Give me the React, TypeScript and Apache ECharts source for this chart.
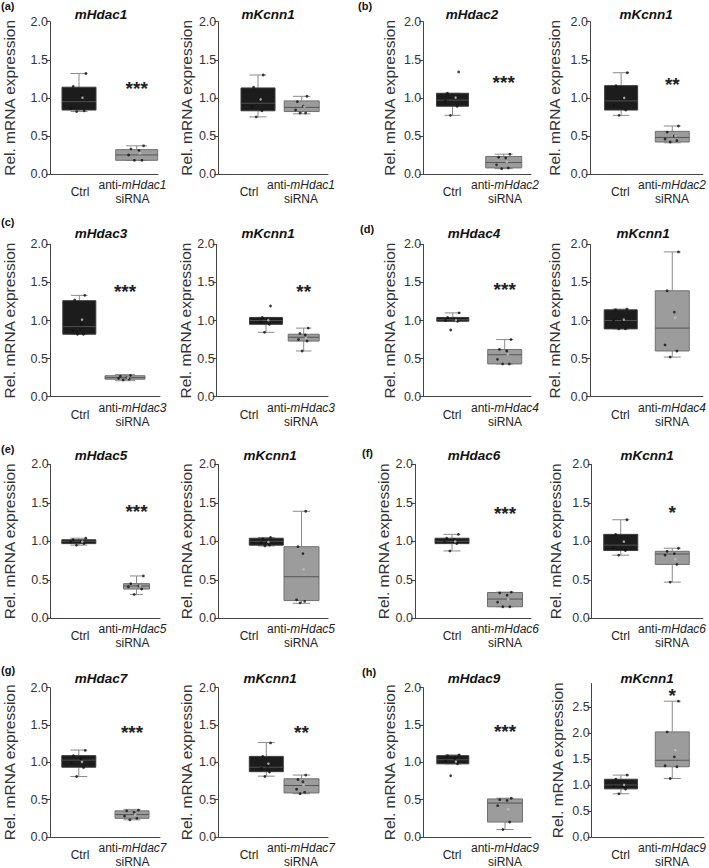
import React, { useEffect, useRef } from 'react';
import * as echarts from 'echarts';

// ---------------- DATA ----------------
const GENES = ['mHdac1', 'mKcnn1', 'mHdac2', 'mKcnn1', 'mHdac3', 'mKcnn1', 'mHdac4', 'mKcnn1',
  'mHdac5', 'mKcnn1', 'mHdac6', 'mKcnn1', 'mHdac7', 'mKcnn1', 'mHdac9', 'mKcnn1'];
const SIRNA_TARGETS = ['mHdac1', 'mHdac1', 'mHdac2', 'mHdac2', 'mHdac3', 'mHdac3', 'mHdac4', 'mHdac4',
  'mHdac5', 'mHdac5', 'mHdac6', 'mHdac6', 'mHdac7', 'mHdac7', 'mHdac9', 'mHdac9'];
const CATEGORIES = ['Ctrl', 'anti-', 'siRNA'];
const PANEL_LETTERS = ['(a)', '(b)', '(c)', '(d)', '(e)', '(f)', '(g)', '(h)'];
const Y_NAME = 'Rel. mRNA expression';
const Y_TICKS = [0, 0.5, 1, 1.5, 2];
const Y_TICKS_WIDE = [0, 0.5, 1, 1.5, 2, 2.5];
const Y_MAX = [2, 2, 2, 2, 2, 2, 2, 2, 2, 2, 2, 2, 2, 2, 2, 2.95];

// box stats: [min, q1, median, q3, max]
const CTRL_BOX = [
  [0.82, 0.84, 0.95, 1.14, 1.32], [0.75, 0.83, 0.93, 1.13, 1.30],
  [0.77, 0.89, 0.97, 1.06, 1.06], [0.77, 0.84, 0.96, 1.16, 1.33],
  [0.82, 0.82, 0.92, 1.26, 1.33], [0.845, 0.95, 1.0, 1.04, 1.04],
  [0.99, 0.99, 1.01, 1.04, 1.10], [0.89, 0.89, 1.0, 1.14, 1.15],
  [0.95, 0.97, 1.0, 1.02, 1.04], [0.94, 0.95, 1.0, 1.04, 1.05],
  [0.875, 0.97, 1.0, 1.04, 1.09], [0.82, 0.88, 0.95, 1.09, 1.28],
  [0.81, 0.935, 1.03, 1.09, 1.165], [0.815, 0.875, 0.935, 1.08, 1.265],
  [0.98, 0.98, 1.035, 1.09, 1.10], [0.83, 0.925, 1.0, 1.11, 1.19],
];
const SI_BOX = [
  [0.18, 0.18, 0.25, 0.32, 0.37], [0.79, 0.82, 0.875, 0.96, 1.02],
  [0.07, 0.08, 0.15, 0.23, 0.26], [0.41, 0.42, 0.48, 0.56, 0.63],
  [0.21, 0.23, 0.25, 0.275, 0.29], [0.60, 0.73, 0.78, 0.82, 0.90],
  [0.43, 0.43, 0.55, 0.62, 0.75], [0.52, 0.60, 0.90, 1.39, 1.90],
  [0.31, 0.38, 0.42, 0.45, 0.55], [0.195, 0.23, 0.54, 0.93, 1.39],
  [0.15, 0.15, 0.25, 0.335, 0.34], [0.47, 0.70, 0.835, 0.87, 0.91],
  [0.23, 0.25, 0.30, 0.35, 0.37], [0.58, 0.59, 0.69, 0.78, 0.83],
  [0.10, 0.20, 0.455, 0.51, 0.52], [1.125, 1.35, 1.475, 2.02, 2.61],
];
const CTRL_POINTS = [
  [1.32, 1.15, 1.03, 0.86, 0.83, 0.82], [1.30, 1.14, 0.98, 0.88, 0.83, 0.75],
  [1.34, 1.06, 1.0, 0.96, 0.89, 0.77], [1.33, 1.16, 1.0, 0.9, 0.84, 0.77],
  [1.33, 1.27, 0.95, 0.87, 0.82, 0.82], [1.19, 1.04, 1.02, 0.98, 0.95, 0.845],
  [1.10, 1.04, 1.02, 1.0, 0.99, 0.875], [1.15, 1.14, 1.0, 1.0, 0.89, 0.89],
  [1.04, 1.02, 1.0, 0.99, 0.97, 0.95], [1.05, 1.03, 1.0, 0.98, 0.95, 0.94],
  [1.09, 1.04, 1.02, 0.99, 0.97, 0.875], [1.28, 1.09, 0.98, 0.92, 0.88, 0.82],
  [1.16, 1.09, 1.05, 0.99, 0.93, 0.81], [1.26, 1.08, 0.95, 0.92, 0.87, 0.81],
  [1.10, 1.09, 1.05, 1.02, 0.98, 0.82], [1.19, 1.11, 1.0, 0.97, 0.92, 0.83],
];
const SI_POINTS = [
  [0.37, 0.33, 0.31, 0.25, 0.18, 0.18], [1.02, 0.95, 0.89, 0.84, 0.80, 0.80],
  [0.26, 0.22, 0.21, 0.12, 0.08, 0.07], [0.63, 0.55, 0.50, 0.46, 0.44, 0.42],
  [0.28, 0.27, 0.25, 0.24, 0.23, 0.22], [0.90, 0.83, 0.81, 0.75, 0.73, 0.60],
  [0.75, 0.62, 0.60, 0.49, 0.43, 0.43], [1.90, 1.39, 1.11, 0.68, 0.60, 0.52],
  [0.55, 0.45, 0.42, 0.41, 0.38, 0.31], [1.39, 0.93, 0.84, 0.24, 0.22, 0.20],
  [0.34, 0.33, 0.30, 0.21, 0.15, 0.15], [0.91, 0.87, 0.84, 0.82, 0.70, 0.47],
  [0.36, 0.35, 0.33, 0.28, 0.25, 0.23], [0.83, 0.77, 0.74, 0.64, 0.60, 0.58],
  [0.52, 0.50, 0.49, 0.42, 0.20, 0.10], [2.61, 2.02, 1.54, 1.37, 1.35, 1.125],
];
const STARS = ['***', '', '***', '**', '***', '**', '***', '', '***', '', '***', '*', '***', '**', '***', '*'];
const STAR_Y = [1.19, 0, 1.27, 1.24, 1.45, 1.45, 1.47, 0, 1.455, 0, 1.43, 1.44, 1.47, 1.47, 1.48, 2.82];

// ---------------- LAYOUT (pixels) ----------------
// [axisX, ctrlCenter, siCenter, xAxisEnd, ctrlBoxW, siBoxW, yNameCenterX]
const COL_LAYOUT = [
  [50, 79, 136.7, 158, 34, 42, 10], [218.3, 258, 301.7, 328, 34, 35, 187],
  [423.3, 452.5, 503.7, 531, 32, 36, 390], [590, 621.7, 673.8, 705, 33, 34, 555],
  [50, 79.3, 125, 160, 33, 40, 10], [216.7, 266, 303.7, 328, 33, 31, 187],
  [423.3, 452.8, 504.7, 531, 32, 34, 390], [590, 621.3, 673.8, 705, 33, 34, 555],
  [50.7, 78.8, 136.5, 160, 34, 26, 10], [218.3, 266.3, 301.5, 328, 34, 35, 187],
  [415, 452, 505, 531, 34, 35, 392], [591.7, 621.3, 673.8, 705, 34, 34, 556],
  [50, 78.8, 132, 160, 34, 34, 10], [218.3, 266.3, 301.5, 328, 34, 35, 187],
  [423.3, 452.8, 505, 531, 32, 35, 390], [591.7, 621.5, 673.8, 706, 33, 34, 558],
];
// x-label centres per column (pixels)
const LABEL_X = [[80, 132.5], [249, 301], [452, 505], [621, 673.5]];
// [top (y of max), bottom (y of 0)]
const ROW_LAYOUT = [[21.7, 174], [244.3, 396.7], [464.3, 618.3], [687.7, 841]];
const H2_TOP = 683.5;
const TITLE_POS = [
  [101, 14], [268, 14], [472, 14], [646, 14],
  [101, 233], [268, 233], [474, 233], [643, 233],
  [101, 455], [270, 455], [474, 455], [647, 455],
  [101, 678], [270, 678], [474, 678], [647, 678],
];
const LETTER_POS = [[1, 6], [358, 6], [1, 222], [360, 229], [1, 449], [362, 453], [1, 670], [362, 672]];
const JITTER = [0.12, -0.1, 0.04, -0.14, 0.09, -0.04];

const FONT = '"Liberation Sans", Arial, sans-serif';

function buildOption() {
  const grid: any[] = [];
  const xAxis: any[] = [];
  const yAxis: any[] = [];
  const series: any[] = [];
  const graphic: any[] = [];

  for (let i = 0; i < 16; i++) {
    const [axisX, c1, c2, xEnd, bw1, bw2, nameC] = COL_LAYOUT[i];
    const row = Math.floor(i / 4);
    let [top, bottom] = ROW_LAYOUT[row];
    if (i === 15) { top = H2_TOP; bottom = 841.7; }
    const span = c2 - c1;
    const xMin = (axisX - c1) / span;
    const xMax = (xEnd - c1) / span;
    const nameSize = 15.5;
    const nameGap = axisX - nameC - nameSize / 2;
    const target = SIRNA_TARGETS[i];
    const ticks = Y_MAX[i] > 2 ? Y_TICKS_WIDE : Y_TICKS;
    const lx = LABEL_X[i % 4].map((p) => (p - c1) / span);
    const lmid = (lx[0] + lx[1]) / 2;

    grid.push({ left: axisX, top, width: xEnd - axisX, height: bottom - top, containLabel: false });
    xAxis.push({
      type: 'value', gridIndex: i, min: xMin, max: xMax,
      splitLine: { show: false },
      axisLine: { show: true, onZero: false, lineStyle: { color: '#444', width: 1 } },
      axisTick: { show: false },
      axisLabel: {
        customValues: lx, margin: 4, color: '#222', fontSize: 12, fontFamily: FONT,
        showMinLabel: true, showMaxLabel: true, hideOverlap: false,
        formatter: (v: number) => (v < lmid ? `{c|${CATEGORIES[0]}}` : `{n|${CATEGORIES[1]}}{i|${target}}\n{n|${CATEGORIES[2]}}`),
        rich: {
          c: { lineHeight: 28, fontSize: 12, fontFamily: FONT, color: '#222' },
          n: { lineHeight: 14, fontSize: 12, fontFamily: FONT, color: '#222' },
          i: { lineHeight: 14, fontSize: 12, fontFamily: FONT, fontStyle: 'italic', color: '#222' },
        },
      },
    });
    yAxis.push({
      type: 'value', gridIndex: i, min: 0, max: Y_MAX[i],
      splitLine: { show: false },
      axisLine: { show: true, onZero: false, lineStyle: { color: '#444', width: 1 } },
      axisTick: { show: true, customValues: ticks, length: 4, lineStyle: { color: '#444' } },
      axisLabel: {
        customValues: ticks, margin: 2, color: '#333', fontSize: 12.5, fontFamily: FONT,
        formatter: (v: number) => v.toFixed(1),
      },
      name: Y_NAME, nameLocation: 'middle', nameGap,
      nameTextStyle: { fontSize: nameSize, fontFamily: FONT, color: '#333' },
    });

    const widths = [bw1, bw2];
    series.push({
      type: 'custom', xAxisIndex: i, yAxisIndex: i, z: 2,
      encode: { x: 0, y: [1, 2, 3, 4, 5] },
      data: [[0, ...CTRL_BOX[i]], [1, ...SI_BOX[i]]],
      renderItem: (params: any, api: any) => {
        const xi = api.value(0);
        const mn = api.value(1), q1 = api.value(2), md = api.value(3), q3 = api.value(4), mx = api.value(5);
        const cx = api.coord([xi, md])[0];
        const y = (v: number) => api.coord([xi, v])[1];
        const bw = widths[xi];
        const dark = xi === 0;
        const fill = dark ? '#1c1c1c' : '#9c9c9c';
        const stroke = dark ? '#3a3a3a' : '#707070';
        const wcol = '#8a8a8a';
        const cap = bw / 4;
        const ws = { stroke: wcol, lineWidth: 1 };
        return {
          type: 'group',
          children: [
            { type: 'line', shape: { x1: cx, y1: y(q3), x2: cx, y2: y(mx) }, style: ws },
            { type: 'line', shape: { x1: cx, y1: y(q1), x2: cx, y2: y(mn) }, style: ws },
            { type: 'line', shape: { x1: cx - cap, y1: y(mx), x2: cx + cap, y2: y(mx) }, style: ws },
            { type: 'line', shape: { x1: cx - cap, y1: y(mn), x2: cx + cap, y2: y(mn) }, style: ws },
            { type: 'rect', shape: { x: cx - bw / 2, y: y(q3), width: bw, height: Math.max(1, y(q1) - y(q3)) }, style: { fill, stroke, lineWidth: 1 } },
            { type: 'line', shape: { x1: cx - bw / 2, y1: y(md), x2: cx + bw / 2, y2: y(md) }, style: { stroke: dark ? '#505050' : '#555', lineWidth: 1 } },
          ],
        };
      },
    });

    const pts: number[][] = [];
    CTRL_POINTS[i].forEach((v, k) => pts.push([JITTER[k], v]));
    SI_POINTS[i].forEach((v, k) => pts.push([1 + JITTER[k], v]));
    series.push({
      type: 'scatter', xAxisIndex: i, yAxisIndex: i, z: 3, symbol: 'circle', symbolSize: 2.8,
      itemStyle: { color: '#111' }, data: pts, silent: true,
    });
    const mean = (a: number[]) => a.reduce((s, v) => s + v, 0) / a.length;
    series.push({
      type: 'scatter', xAxisIndex: i, yAxisIndex: i, z: 3, symbol: 'circle', symbolSize: 2.6,
      itemStyle: { color: '#c4c4c4' }, data: [[0.06, mean(CTRL_POINTS[i])], [1.06, mean(SI_POINTS[i])]], silent: true,
    });

    if (STARS[i]) {
      const stars = STARS[i];
      series.push({
        type: 'custom', xAxisIndex: i, yAxisIndex: i, z: 4,
        data: [[1, STAR_Y[i]]],
        renderItem: (params: any, api: any) => {
          const p = api.coord([api.value(0), api.value(1)]);
          return {
            type: 'text', x: p[0], y: p[1] + 5,
            style: { text: stars, fontSize: 19, fontWeight: 'bold', fontFamily: FONT, fill: '#222', align: 'center', verticalAlign: 'middle' },
          };
        },
      });
    }

    graphic.push({
      type: 'text', x: TITLE_POS[i][0], y: TITLE_POS[i][1],
      style: { text: GENES[i], fontSize: 13.5, fontWeight: 'bold', fontStyle: 'italic', fontFamily: FONT, fill: '#111', align: 'center', verticalAlign: 'middle' },
    });
  }

  PANEL_LETTERS.forEach((t, k) => {
    graphic.push({
      type: 'text', x: LETTER_POS[k][0], y: LETTER_POS[k][1],
      style: { text: t, fontSize: 11, fontWeight: 'bold', fontFamily: FONT, fill: '#111', align: 'left', verticalAlign: 'middle' },
    });
  });

  return {
    animation: false,
    backgroundColor: '#ffffff',
    textStyle: { fontFamily: FONT },
    grid, xAxis, yAxis, series, graphic,
  };
}

export default function App() {
  const ref = useRef<HTMLDivElement>(null);
  useEffect(() => {
    if (!ref.current) return;
    const chart = echarts.init(ref.current, undefined, { renderer: 'svg' });
    chart.setOption(buildOption() as any);
    return () => chart.dispose();
  }, []);
  return (
    <div
      ref={ref}
      style={{ position: 'absolute', left: 0, top: 0, width: 709, height: 868, background: '#fff' }}
    />
  );
}
